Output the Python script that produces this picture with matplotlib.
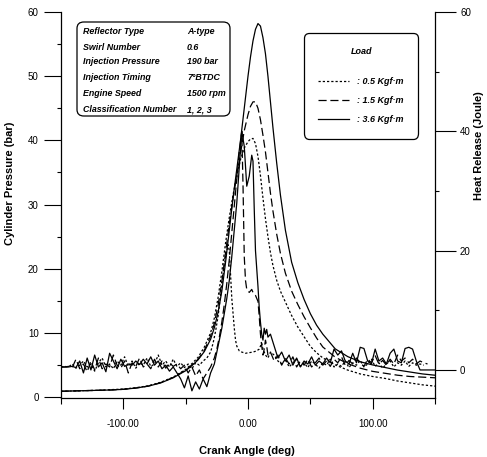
import numpy as np
import matplotlib
matplotlib.use("Agg")
import matplotlib.pyplot as plt
from matplotlib.patches import FancyBboxPatch
from matplotlib import font_manager

plt.rcParams['font.family'] = ['Liberation Sans', 'DejaVu Sans']
names = {f.name for f in font_manager.fontManager.ttflist}
NARROW = 'Liberation Sans Narrow' if 'Liberation Sans Narrow' in names else 'Liberation Sans'

# ---------------- data ----------------
loads = [": 0.5 Kgf\u00b7m", ": 1.5 Kgf\u00b7m", ": 3.6 Kgf\u00b7m"]

param_names = ["Reflector Type", "Swirl Number", "Injection Pressure",
               "Injection Timing", "Engine Speed", "Classification Number"]
param_values = ["A-type", "0.6", "190 bar", "7\u00b0BTDC", "1500 rpm", "1, 2, 3"]

# cylinder pressure (bar)
p_ang = [-150, -140, -130, -120, -110, -100, -90, -80, -70, -60,
         -50, -45, -40, -35,
         -30, -27, -24, -21, -18, -15, -12, -9, -6, -3,
         0, 2, 4, 6, 8, 10, 12, 14, 16, 18, 20,
         23, 26,
         30, 35, 40, 45, 50, 55, 60,
         70, 80, 90, 100, 110, 120, 130, 140, 150]
p_05 = [0.9, 0.95, 1.0, 1.05, 1.15, 1.25, 1.45, 1.75, 2.3, 3.1,
        4.3, 5.2, 6.2, 7.8,
        10.0, 12.3, 15.5, 19.5, 24.0, 28.0, 31.5, 34.5, 37.0, 38.8,
        39.8, 40.2, 40.3, 39.5, 37.5, 34.5, 31.0, 27.8, 25.0, 22.5, 20.5,
        18.2, 16.5,
        14.8, 12.7, 10.9, 9.4, 7.9, 6.9, 6.1,
        5.0, 4.2, 3.6, 3.2, 2.9, 2.5, 2.2, 1.9, 1.7]
p_15 = [0.9, 0.95, 1.0, 1.05, 1.1, 1.2, 1.4, 1.7, 2.25, 3.05,
        4.2, 5.0, 5.9, 7.3,
        9.5, 11.5, 14.3, 18.0, 22.5, 27.0, 31.0, 34.5, 38.0, 41.5,
        44.0, 45.3, 46.0, 46.0, 45.0, 43.2, 40.8, 38.2, 35.0, 31.8, 29.0,
        25.4, 22.4,
        19.3, 16.5, 14.4, 12.5, 10.8, 9.2, 7.8,
        6.2, 5.2, 4.5, 4.0, 3.7, 3.4, 3.2, 3.1, 3.0]
p_36 = [0.9, 0.95, 1.0, 1.05, 1.1, 1.2, 1.4, 1.7, 2.2, 3.0,
        4.1, 4.9, 5.8, 7.1,
        9.0, 10.8, 13.2, 16.5, 21.0, 26.0, 31.0, 35.5, 40.0, 45.0,
        50.0, 53.0, 55.5, 57.3, 58.2, 57.8, 56.0, 53.5, 50.0, 46.0, 42.0,
        36.5, 31.5,
        26.0, 21.0, 17.8, 15.2, 13.0, 11.2, 9.8,
        7.5, 6.3, 5.5, 5.0, 4.6, 4.2, 3.9, 3.6, 3.4]

# heat release (Joule): noisy sections sampled every 3 deg
hr_left_ang = np.arange(-150, -32, 3)
hr_right_ang = np.arange(18, 139, 3)

hr05_left = [0.5, 0.6, 0.5, 1.0, 0.3, 0.8, 1.5, 0.5, 1.0, -0.2,
             1.2, 2.0, 0.5, 1.0, 0.2, 1.5, 0.8, 2.2, 0.6, 1.5,
             0.3, 1.2, 0.8, 2.0, 0.6, 1.0, 2.5, 0.8, 1.5, 0.5,
             1.8, 0.6, 1.2, 0.4, 1.0, 0.2, 1.2, 0.8, 1.5, 2.0]
hr05_peak_ang = [-30, -28, -26, -24, -22, -20, -18, -16, -15, -14, -13, -12, -11,
                 -10, -9, -7, -5, -2, 1, 4, 7, 9, 11, 12, 14, 16]
hr05_peak = [3.0, 4.5, 6.5, 9.0, 12.5, 16.0, 19.0, 21.0, 20.0, 16.0, 12.0, 9.5, 7.0,
             5.0, 4.0, 3.2, 3.0, 2.8, 2.9, 3.0, 3.2, 3.5, 4.5, 3.5, 2.5, 2.0]
hr05_right = [3.0, 2.5, 1.5, 1.0, 1.8, 0.5, 1.2, 1.8, 0.6, 1.2,
              0.4, 1.5, 1.0, 0.3, 1.2, 0.8, 1.8, 0.5, 1.0, 0.6,
              1.5, 0.4, 1.2, 0.8, 1.6, 0.5, 1.0, 1.8, 0.6, 1.2,
              0.3, 1.0, 1.5, 0.5, 1.2, 0.8, 1.5, 0.6, 1.2, 0.8, 1.0]
hr05_tail_ang = [141]
hr05_tail = [0.8]

hr15_left = [0.5, 0.5, 0.6, 0.4, 1.8, 0.2, 1.0, -0.3, 1.5, 0.0,
             2.0, 0.2, 1.0, 0.5, 2.5, 0.8, 0.3, 1.5, -0.5, 1.2,
             0.6, 2.0, 0.5, 1.0, 0.2, 1.8, 0.5, 1.5, 0.3, 1.2,
             0.6, 1.0, 0.2, 0.8, -0.5, 0.5, -1.0, 0.0, -1.5, -0.5]
hr15_peak_ang = [-30, -27, -25, -23, -21, -19, -17, -15, -13, -11,
                 -9, -7, -5, -4, -3, -2, -1, 1, 3, 4, 6, 8, 9, 10,
                 11, 12, 13, 14, 15, 16]
hr15_peak = [0.5, 2.0, 3.5, 5.5, 8.0, 11.0, 14.5, 18.5, 23.0, 27.5,
             32.0, 36.5, 40.0, 31.0, 19.0, 15.0, 13.5, 13.0, 13.5, 13.0, 12.5, 11.5, 9.0, 6.0,
             4.0, 2.5, 3.5, 5.0, 4.0, 2.5]
hr15_right = [3.0, 1.5, 2.5, 0.8, 2.0, 1.0, 2.2, 0.5, 1.5, 0.8,
              1.8, 0.5, 1.2, 2.0, 0.8, 1.5, 0.6, 1.8, 1.2, 2.2,
              0.8, 1.6, 1.0, 2.0, 1.2, 0.6, 1.8, 1.2, 2.4, 1.0,
              1.6, 0.8, 1.8, 1.0, 2.5, 1.5, 2.0, 1.2, 1.8, 1.0, 1.5]
hr15_tail_ang = [141, 144]
hr15_tail = [1.2, 1.0]

hr36_left = [0.5, 0.5, 0.5, 0.6, 0.4, 1.5, -0.5, 2.0, 0.0, 2.5,
             0.5, 1.2, -0.3, 2.8, 1.5, 0.2, 1.8, 0.6, 1.0, 0.8,
             1.5, 0.9, 1.8, 1.0, 2.2, 0.8, 1.5, 0.2, 0.8, -0.2,
             0.5, -0.5, -1.5, -3.0, -1.0, -3.5, -2.0, -3.2, -1.5, -2.8]
hr36_peak_ang = [-30, -27, -25, -23, -21, -19, -17, -15, -13, -11,
                 -9, -7, -5, -3, -1, 1, 3, 4, 5, 6, 7, 8, 9, 10,
                 11, 12, 13, 14, 15, 16]
hr36_peak = [-0.5, 1.0, 3.0, 5.0, 7.0, 9.5, 12.0, 15.0, 19.0, 23.5,
             28.0, 34.0, 40.0, 37.5, 30.8, 32.5, 36.0, 35.0, 27.0, 20.0, 17.0, 14.0, 10.5, 8.0,
             6.0, 5.0, 7.0, 6.0, 6.8, 5.5]
hr36_right = [6.0, 4.0, 2.0, 3.0, 1.5, 2.5, 0.8, 2.0, 0.5, 1.5,
              1.0, 2.2, 0.8, 1.5, 1.0, 2.0, 1.2, 3.5, 2.5, 3.2,
              1.5, 1.0, 2.8, 1.2, 3.8, 3.6, 1.5, 1.0, 3.5, 1.5,
              2.0, 1.0, 2.8, 3.5, 1.5, 1.2, 3.6, 3.8, 3.5, 1.5, 0.0]
hr36_tail_ang = [141, 150]
hr36_tail = [0.0, 0.0]

x_ticks = [-100, 0, 100]
x_ticklabels = ["-100.00", "0.00", "100.00"]
x_minor = [-150, -50, 50, 150]
yl_ticks = [0, 10, 20, 30, 40, 50, 60]
yl_minor = [5, 15, 25, 35, 45, 55]
yr_ticks = [0, 20, 40, 60]
yr_minor = [10, 30, 50]

# ---------------- figure ----------------
W, H = 487, 457
fig = plt.figure(figsize=(W / 100, H / 100), dpi=100)
ax = fig.add_axes([61 / W, 1 - 398 / H, (435 - 61) / W, (398 - 12) / H])
ax2 = ax.twinx()

styles = [(0, (1.8, 1.6)), (0, (6.5, 3.0)), '-']
lw = 0.9
col = 'black'

hp = []
for pv, ls in zip([p_05, p_15, p_36], styles):
    l, = ax.plot(p_ang, pv, color=col, lw=lw, linestyle=ls)
    hp.append(l)

hr_sets = [
    (hr05_left, hr05_peak_ang, hr05_peak, hr05_right, hr05_tail_ang, hr05_tail),
    (hr15_left, hr15_peak_ang, hr15_peak, hr15_right, hr15_tail_ang, hr15_tail),
    (hr36_left, hr36_peak_ang, hr36_peak, hr36_right, hr36_tail_ang, hr36_tail),
]
for (left, pk_a, pk, right, t_a, t), ls in zip(hr_sets, styles):
    xa = np.concatenate([hr_left_ang, pk_a, hr_right_ang, t_a])
    ya = np.concatenate([left, pk, right, t])
    ax2.plot(xa, ya, color=col, lw=lw, linestyle=ls)

ax.set_xlim(-150, 150)
ax.set_ylim(-0.15, 60)
ax2.set_ylim(-4.7, 60)

tick_font = dict(family='Liberation Sans', size=7)
ax.set_xticks(x_ticks)
ax.set_xticklabels(x_ticklabels, fontdict=tick_font)
ax.set_xticks(x_minor, minor=True)
ax.set_yticks(yl_ticks)
ax.set_yticklabels([str(v) for v in yl_ticks], fontdict=tick_font)
ax.set_yticks(yl_minor, minor=True)
ax2.set_yticks(yr_ticks)
ax2.set_yticklabels([str(v) for v in yr_ticks], fontdict=tick_font)
ax2.set_yticks(yr_minor, minor=True)

ax.tick_params(axis='x', which='major', direction='out', length=8, width=0.8, pad=7)
ax.tick_params(axis='x', which='minor', direction='out', length=4, width=0.8)
ax.tick_params(axis='y', which='major', direction='out', length=12, width=0.8, pad=4)
ax.tick_params(axis='y', which='minor', direction='out', length=3, width=0.8)
ax2.tick_params(axis='y', which='major', direction='out', length=15, width=0.8, pad=3)
ax2.tick_params(axis='y', which='minor', direction='out', length=3, width=0.8)

for a in (ax, ax2):
    a.spines['top'].set_visible(False)
    for s in a.spines.values():
        s.set_linewidth(0.9)
ax.spines['right'].set_visible(False)
ax2.spines['left'].set_visible(False)
ax2.spines['bottom'].set_visible(False)

lab_font = dict(family='Liberation Sans', size=8, weight='bold')
ax.set_ylabel("Cylinder Pressure (bar)", fontdict=lab_font)
ax.yaxis.set_label_coords(-0.123, 0.557)
ax2.set_ylabel("Heat Release (Joule)", fontdict=lab_font, rotation=90)
ax2.yaxis.set_label_coords(1.105, 0.655)
ax.set_xlabel("Crank Angle (deg)", fontdict=lab_font)
ax.xaxis.set_label_coords(0.497, -0.124)

# parameter box
box = FancyBboxPatch((77 / W, 1 - 116 / H), (230 - 77) / W, (116 - 22) / H,
                     boxstyle="round,pad=0,rounding_size=0.014",
                     transform=fig.transFigure, fc='white', ec='black', lw=0.9)
fig.add_artist(box)
row_y = [32, 47, 62, 78, 94, 110]
for name, val, yy in zip(param_names, param_values, row_y):
    fig.text(83 / W, 1 - yy / H, name, ha='left', va='center', family=NARROW,
             size=6.4, weight='bold', style='italic')
    fig.text(187 / W, 1 - yy / H, val, ha='left', va='center', family=NARROW,
             size=6.4, weight='bold', style='italic')

# legend
leg = ax2.legend(hp, loads, title="Load", loc='upper left',
                 bbox_to_anchor=(304 / W, 1 - 33 / H), bbox_transform=fig.transFigure,
                 borderaxespad=0, fancybox=True, framealpha=1, edgecolor='black',
                 prop=dict(family=NARROW, size=6.5, weight='bold', style='italic'),
                 title_fontproperties=dict(family=NARROW, size=6.5, weight='bold', style='italic'),
                 handlelength=3.4, handletextpad=0.9, labelspacing=1.1, borderpad=1.6)
leg.get_frame().set_linewidth(0.9)
leg.get_frame().set_boxstyle("round,pad=0,rounding_size=0.6")
leg._legend_box.sep = 15

fig.savefig("out.png", dpi=100)
